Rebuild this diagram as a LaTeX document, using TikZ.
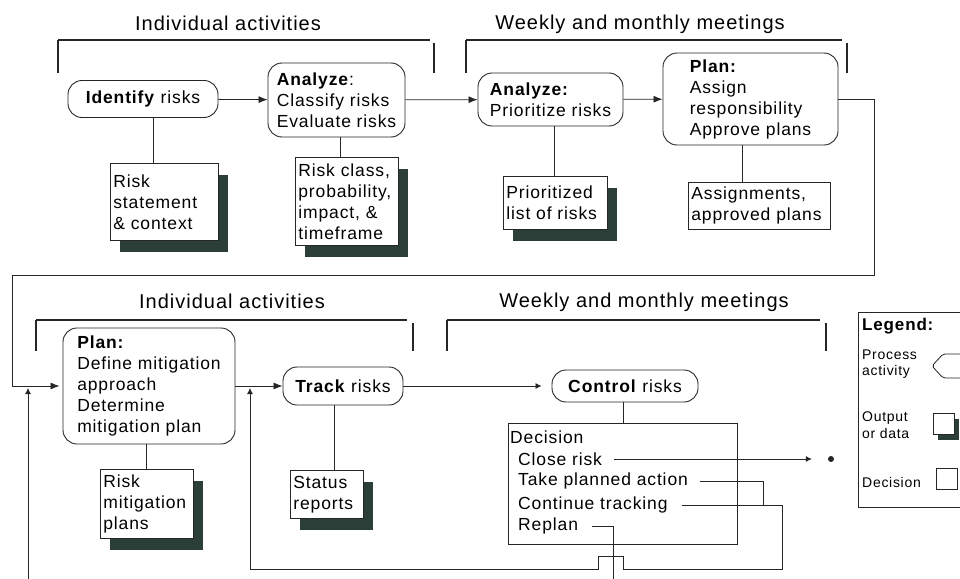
\documentclass[tikz,border=0pt]{standalone}
\usepackage{fontspec}
\setmainfont{Liberation Sans}[LetterSpace=5]
\usepackage{tikz}
\usetikzlibrary{arrows.meta,shadows}
\definecolor{shadowgrn}{RGB}{44,62,56}
\newcommand{\txtbody}{\fontsize{17.5}{21}\selectfont}
\newcommand{\txthead}{\fontsize{20}{24}\selectfont}
\newcommand{\txtsmall}{\fontsize{14}{16.5}\selectfont}

\begin{document}
\begin{tikzpicture}[x=1pt,y=-1pt,
  proc/.style={draw=black!85,line width=0.9pt,rounded corners=14pt,align=left,inner sep=3pt,font=\txtbody},
  outplain/.style={draw=black!85,line width=0.7pt,fill=white,align=left,anchor=north west,inner sep=3pt,font=\txtbody},
  outbox/.style={outplain,drop shadow={shadow xshift=10pt,shadow yshift=-12pt,fill=shadowgrn,opacity=1}},
  decbox/.style={draw=black!85,line width=0.8pt,anchor=north west,minimum width=229pt,minimum height=121pt},
  item/.style={anchor=west,inner sep=0pt,font=\txtbody},
  head/.style={anchor=base,inner sep=0pt,font=\txthead},
  lgd/.style={anchor=west,align=left,inner sep=0pt,font=\txtsmall},
  lgbox/.style={draw=black!85,line width=0.7pt,fill=white,anchor=north west,minimum width=21pt,minimum height=21pt,inner sep=0pt},
  dot/.style={circle,fill=black!85,inner sep=0pt,minimum size=6pt},
  arr/.style={-{Latex[length=9pt,width=7pt]},line width=0.8pt,draw=black!85},
  arrsm/.style={-{Latex[length=6pt,width=6pt]},line width=0.8pt,draw=black!85},
  link/.style={line width=0.8pt,draw=black!85},
  bar/.style={line width=1.3pt,draw=black!85},
  tick/.style={line width=2.6pt,draw=black!85}
]
\useasboundingbox (0,0) rectangle (960,578);
\clip (0,0) rectangle (960,578);

% headings and brackets
\node[head] (hdA) at (228,31) {Individual activities};
\node[head] (hdB) at (640,30) {Weekly and monthly meetings};
\node[head] (hdC) at (232,308) {Individual activities};
\node[head] (hdD) at (644,307) {Weekly and monthly meetings};
\draw[bar] (58,40) -- (430,40); \draw[tick] (58,40) -- (58,73); \draw[tick] (434,43) -- (434,73);
\draw[bar] (466,40) -- (842,40); \draw[tick] (466,40) -- (466,73); \draw[tick] (847,43) -- (847,73);
\draw[bar] (36,320) -- (407,320); \draw[tick] (36,320) -- (36,351); \draw[tick] (413,323) -- (413,351);
\draw[bar] (447,320) -- (820,320); \draw[tick] (447,320) -- (447,351); \draw[tick] (826,323) -- (826,351);

% process activities
\node[proc,minimum width=150pt,minimum height=37pt] (idf) at (143,99) {\textbf{Identify} risks};
\node[proc,minimum width=137pt,minimum height=74pt] (anc) at (336.5,100) {\textbf{Analyze}:\\Classify risks\\Evaluate risks};
\node[proc,minimum width=145pt,minimum height=53pt] (anp) at (550.5,99.5) {\textbf{Analyze:}\\Prioritize risks};
\node[proc,minimum width=175pt,minimum height=92pt] (pla) at (750.5,99) {\textbf{Plan:}\\Assign\\responsibility\\Approve plans};
\node[proc,minimum width=172pt,minimum height=116pt] (plm) at (149,386) {\textbf{Plan:}\\Define mitigation\\approach\\Determine\\mitigation plan};
\node[proc,minimum width=120pt,minimum height=38pt] (trk) at (343,386) {\textbf{Track} risks};
\node[proc,minimum width=146pt,minimum height=32pt] (ctl) at (625,386) {\textbf{Control} risks};

% outputs
\node[outbox,text width=102pt,minimum height=77pt] (rsc) at (110,163) {Risk\\statement\\\& context};
\node[outbox,text width=97pt,minimum height=88pt] (rcp) at (295,157) {Risk class,\\probability,\\impact, \&\\timeframe};
\node[outbox,text width=98pt,minimum height=53pt] (pls) at (503,176) {Prioritized\\list of risks};
\node[outplain,text width=136pt,minimum height=47pt] (aap) at (688,182) {Assignments,\\approved plans};
\node[outbox,text width=87pt,minimum height=69pt] (rmp) at (100,469) {Risk\\mitigation\\plans};
\node[outbox,text width=67pt,minimum height=48pt] (str) at (290,470) {Status\\reports};

% decision
\node[decbox] (dec) at (508,423) {};
\node[item] (dhd) at (510,437) {Decision};
\node[item] (cls) at (518,459) {Close risk};
\node[item] (tpa) at (518,481) {Take planned action};
\node[item] (ctk) at (518,505) {Continue tracking};
\node[item] (rpl) at (518,526) {Replan};
\node[dot] (closed) at (831,459) {};

% legend
\node[draw=black!85,line width=0.7pt,anchor=north west,minimum width=117pt,minimum height=195pt] (lgf) at (858,312) {};
\node[lgd,font=\fontsize{17}{20}\selectfont\bfseries] (lgt) at (862,326) {Legend:};
\node[lgd] (lgp) at (862,364) {Process\\activity};
\node[lgd] (lgo) at (862,425) {Output\\or data};
\node[lgd] (lgdc) at (862,482) {Decision};
\draw[link,rounded corners=2pt] (968,354) -- (943,354) -- (932,366) -- (943,378) -- (968,378);
\node[lgbox,drop shadow={shadow xshift=5pt,shadow yshift=-6pt,fill=shadowgrn,opacity=1}] (lgob) at (933,413) {};
\node[lgbox] (lgdb) at (936,468) {};

% flow
\coordinate (trkin) at (250,388);
\coordinate (plmin) at (28,388);
\coordinate (tpaj) at (763,505);
\draw[arr] (idf) -- (anc);
\draw[arr] (anc) -- (anp);
\draw[arr] (anp) -- (pla);
\draw[arr,shorten >=3pt] (pla.east) -- (874,99) -- (874,275) -- (12,275) |- (plm.west);
\draw[arr] (plm) -- (trk);
\draw[arrsm,shorten >=10pt] (trk) -- (ctl);

% outputs hang below their activities
\draw[link] ([xshift=10pt]idf.south) -- ([xshift=10pt]idf.south |- rsc.north);
\draw[link] ([xshift=4pt]anc.south) -- ([xshift=4pt]anc.south |- rcp.north);
\draw[link] ([xshift=4pt]anp.south) -- ([xshift=4pt]anp.south |- pls.north);
\draw[link] ([xshift=-8pt]pla.south) -- ([xshift=-8pt]pla.south |- aap.north);
\draw[link] ([xshift=-3pt]plm.south) -- ([xshift=-3pt]plm.south |- rmp.north);
\draw[link] ([xshift=-9pt]trk.south) -- ([xshift=-9pt]trk.south |- str.north);
\draw[link] ([xshift=-2pt]ctl.south) -- ([xshift=-2pt]ctl.south |- dec.north);

% decision outcomes
\draw[arrsm,shorten <=12pt,shorten >=16pt] (cls.east) -- (closed);
\draw[link,shorten <=12pt] (tpa.east) -| (tpaj);
\draw[arrsm] ([xshift=14pt]ctk.east) -- (782,505) -- (782,569) -- (623,569) -- (623,556) -- (598,556) -- (598,569) -| (trkin);
\draw[arrsm] ([xshift=14pt]rpl.east) -| (613,600) -| (plmin);
\end{tikzpicture}
\end{document}
